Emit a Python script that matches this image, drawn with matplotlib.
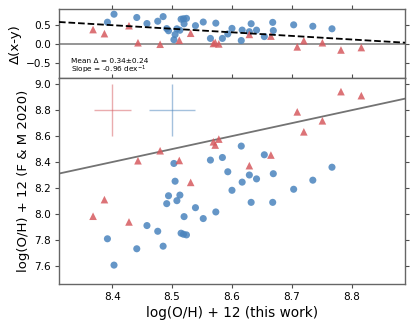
import numpy as np
import matplotlib
matplotlib.use("Agg")
import matplotlib.pyplot as plt

# Blue circles: (this work, F&M 2020)
blue_x = [8.392, 8.403, 8.441, 8.458, 8.476, 8.485, 8.491, 8.494, 8.503, 8.505,
          8.508, 8.513, 8.515, 8.519, 8.520, 8.524, 8.539, 8.552, 8.564, 8.573,
          8.584, 8.593, 8.600, 8.6155, 8.617, 8.629, 8.632, 8.641, 8.654, 8.668,
          8.669, 8.703, 8.735, 8.767]
blue_y = [7.808, 7.605, 7.731, 7.910, 7.866, 7.751, 8.079, 8.140, 8.389, 8.252,
          8.102, 8.145, 7.851, 7.843, 7.979, 7.838, 8.048, 7.964, 8.415, 8.015,
          8.435, 8.325, 8.182, 8.523, 8.245, 8.300, 8.089, 8.270, 8.456, 8.089,
          8.310, 8.190, 8.260, 8.360]
# Red triangles
red_x = [8.368, 8.387, 8.428, 8.443, 8.480, 8.512, 8.531, 8.569, 8.572, 8.578,
         8.629, 8.665, 8.709, 8.720, 8.751, 8.782, 8.816]
red_y = [7.982, 8.110, 7.938, 8.410, 8.487, 8.412, 8.243, 8.556, 8.531, 8.577,
         8.372, 8.454, 8.787, 8.633, 8.718, 8.943, 8.912]

# typical error bars
err_x = [8.40, 8.50]
err_y = [8.80, 8.80]
err_xerr = [0.031, 0.039]
err_yerr = [0.20, 0.20]

fit_slope = -0.96
fit_intercept = 8.568

blue_c = '#4a84bd'
red_c = '#d65a5f'

blue_x = np.array(blue_x); blue_y = np.array(blue_y)
red_x = np.array(red_x); red_y = np.array(red_y)

fig = plt.figure(figsize=(4.15, 3.27), dpi=100)
ax1 = fig.add_axes([0.142, 0.7606, 0.834, 0.2110])
ax2 = fig.add_axes([0.142, 0.1306, 0.834, 0.6300], sharex=ax1)

xlim = (8.311, 8.889)

for ax in (ax1, ax2):
    ax.tick_params(direction='out', top=True, right=True, labelsize=7.6,
                   length=3.0, width=0.8, color='0.3', pad=2.5)
    for s in ax.spines.values():
        s.set_color('0.4')
        s.set_linewidth(1.0)

# top panel
ax1.axhline(0, color='0.55', lw=1.3, zorder=1)
xx = np.array(xlim)
ax1.plot(xx, fit_intercept + fit_slope * xx, 'k--', lw=1.3, zorder=3)
ax1.scatter(blue_x, blue_x - blue_y, s=26, color=blue_c, alpha=0.85,
            edgecolors='none', zorder=2)
ax1.scatter(red_x, red_x - red_y, s=30, marker='^', color=red_c, alpha=0.85,
            edgecolors='none', zorder=2)
ax1.set_ylim(-0.92, 0.93)
ax1.set_yticks([-0.5, 0.0, 0.5])
ax1.set_ylabel('Δ(x-y)', fontsize=9.6, labelpad=3)
ax1.tick_params(labelbottom=False)
ax1.text(0.035, 0.25, 'Mean Δ = 0.34±0.24', transform=ax1.transAxes,
         fontsize=5.3, va='center', ha='left')
ax1.text(0.035, 0.12, 'Slope = -0.96 dex$^{-1}$', transform=ax1.transAxes,
         fontsize=5.3, va='center', ha='left')

# bottom panel
ax2.plot(xx, xx, color='0.45', lw=1.3, zorder=1)
ax2.scatter(blue_x, blue_y, s=26, color=blue_c, alpha=0.85,
            edgecolors='none', zorder=2)
ax2.scatter(red_x, red_y, s=30, marker='^', color=red_c, alpha=0.85,
            edgecolors='none', zorder=2)
for c, xe, ye, xerr, yerr in zip([red_c, blue_c], err_x, err_y, err_xerr, err_yerr):
    ax2.errorbar(xe, ye, xerr=xerr, yerr=yerr, fmt='none', ecolor=c,
                 alpha=0.5, lw=1.0, capsize=0)
ax2.set_xlim(*xlim)
ax2.set_ylim(7.457, 9.046)
ax2.set_yticks([7.6, 7.8, 8.0, 8.2, 8.4, 8.6, 8.8, 9.0])
ax2.set_xticks([8.4, 8.5, 8.6, 8.7, 8.8])
ax2.set_xlabel('log(O/H) + 12 (this work)', fontsize=9.8, labelpad=3)
ax2.set_ylabel('log(O/H) + 12 (F & M 2020)', fontsize=9.5, labelpad=3)

fig.savefig('out.png', dpi=100)
